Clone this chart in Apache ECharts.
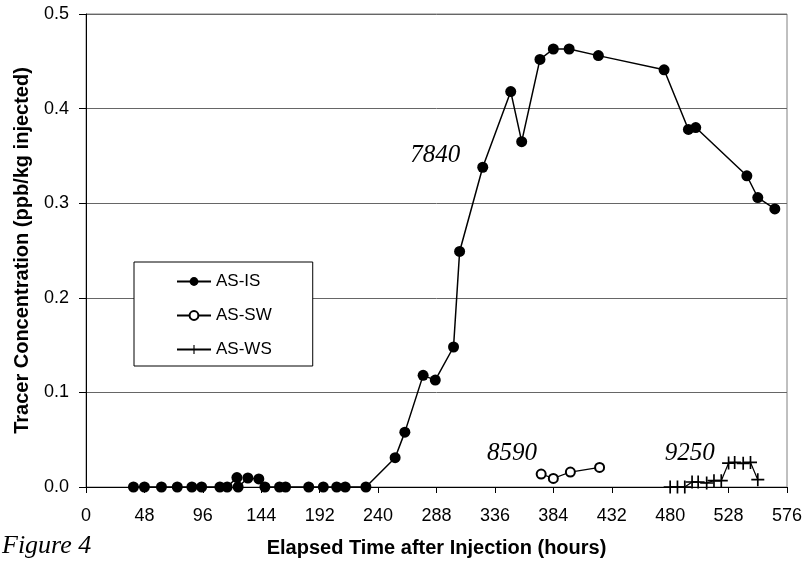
<!DOCTYPE html>
<html>
<head>
<meta charset="utf-8">
<script src="https://cdn.jsdelivr.net/npm/echarts@6/dist/echarts.min.js"></script>
<style>html,body{margin:0;padding:0;background:#fff;}#c{width:809px;height:564px;}</style>
</head>
<body>
<div id="c"></div>
<script>
// Data
const isHours = [39, 48, 62, 75, 87, 95, 110, 116, 124, 125, 133, 142, 147, 159, 164, 183, 195, 206, 213, 230, 254, 262, 277, 287, 302, 307, 326, 349, 358, 373, 384, 397, 421, 475, 495, 501, 543, 552, 566];
const isValues = [0, 0, 0, 0, 0, 0, 0, 0, 0.010, 0, 0.0095, 0.0085, 0, 0, 0, 0, 0, 0, 0, 0, 0.031, 0.058, 0.118, 0.113, 0.148, 0.249, 0.338, 0.418, 0.365, 0.452, 0.463, 0.463, 0.456, 0.441, 0.378, 0.380, 0.329, 0.306, 0.294];
const swHours = [374, 384, 398, 422];
const swValues = [0.0137, 0.0091, 0.0158, 0.0207];
const wsHours = [480, 486, 492, 498, 503, 510, 516, 522, 528, 533, 540, 546, 552];
const wsValues = [0, 0, 0, 0.0053, 0.0053, 0.0042, 0.0067, 0.0067, 0.0253, 0.026, 0.025, 0.026, 0.0077];
const seriesNames = ['AS-IS', 'AS-SW', 'AS-WS'];
const annotationTexts = ['7840', '8590', '9250'];
const annotationHours = [287, 350, 496];
const annotationValues = [0.35, 0.035, 0.036];

const zip = (a, b) => a.map((v, i) => [v, b[i]]);
const plus = 'path://M4.35,0h1.3v4.35h4.35v1.3h-4.35v4.35h-1.3v-4.35h-4.35v-1.3h4.35z';

const chart = echarts.init(document.getElementById('c'), null, {renderer: 'canvas'});
const font = 'Arial, "Liberation Sans", sans-serif';
const option = {
  animation: false,
  backgroundColor: '#fff',
  grid: {left: 86, top: 14, right: 22, bottom: 77, show: true, borderColor: '#808080', borderWidth: 1},
  legend: {
    orient: 'vertical', left: 134, top: 262,
    backgroundColor: '#fff', borderColor: '#000', borderWidth: 1,
    padding: [11, 41, 8, 42], itemGap: 17, itemWidth: 34, itemHeight: 11,
    textStyle: {fontFamily: font, fontSize: 17, color: '#000'},
    data: seriesNames
  },
  xAxis: {
    type: 'value', min: 0, max: 576, interval: 48,
    name: 'Elapsed Time after Injection (hours)', nameLocation: 'middle', nameGap: 51,
    nameTextStyle: {fontFamily: font, fontSize: 20, fontWeight: 'bold', color: '#000'},
    axisLine: {show: true, onZero: false, lineStyle: {color: '#000', width: 1}},
    axisTick: {show: true, inside: false, length: 6, lineStyle: {color: '#000'}},
    axisLabel: {fontFamily: font, fontSize: 18, color: '#000', margin: 20},
    splitLine: {show: false}
  },
  yAxis: {
    type: 'value', min: 0, max: 0.5, interval: 0.1,
    name: 'Tracer Concentration (ppb/kg injected)', nameLocation: 'middle', nameGap: 54,
    nameTextStyle: {fontFamily: font, fontSize: 20, fontWeight: 'bold', color: '#000'},
    axisLine: {show: true, lineStyle: {color: '#000', width: 1}},
    axisTick: {show: true, inside: false, length: 7, lineStyle: {color: '#000'}},
    axisLabel: {fontFamily: font, fontSize: 18, color: '#000', margin: 17, formatter: v => v.toFixed(1)},
    splitLine: {show: true, lineStyle: {color: '#666', width: 1}}
  },
  series: [
    {
      name: seriesNames[0], type: 'line', data: zip(isHours, isValues),
      symbol: 'circle', symbolSize: 11,
      lineStyle: {color: '#000', width: 1.5},
      itemStyle: {color: '#000', borderColor: '#000', borderWidth: 0},
      z: 3
    },
    {
      name: seriesNames[1], type: 'line', data: zip(swHours, swValues),
      symbol: 'emptyCircle', symbolSize: 9,
      lineStyle: {color: '#000', width: 1.2},
      itemStyle: {color: '#000', borderColor: '#000', borderWidth: 1.2},
      z: 3
    },
    {
      name: seriesNames[2], type: 'line', data: zip(wsHours, wsValues),
      symbol: plus, symbolSize: 13,
      lineStyle: {color: '#000', width: 1.2},
      itemStyle: {color: '#000', borderWidth: 0},
      z: 3
    }
  ]
};
chart.setOption(option);

const graphics = annotationTexts.map((t, i) => {
  const p = chart.convertToPixel({gridIndex: 0}, [annotationHours[i], annotationValues[i]]);
  return {
    type: 'text', x: p[0], y: p[1], z: 10,
    style: {text: t, fill: '#000', font: 'italic 25px "Liberation Serif", "DejaVu Serif", serif', align: 'center', verticalAlign: 'middle'}
  };
});
graphics.push({
  type: 'text', left: 2, top: 533, z: 10,
  style: {text: 'Figure 4', fill: '#000', font: 'italic 26px "Liberation Serif", "DejaVu Serif", serif'}
});
chart.setOption({graphic: graphics});
</script>
</body>
</html>
